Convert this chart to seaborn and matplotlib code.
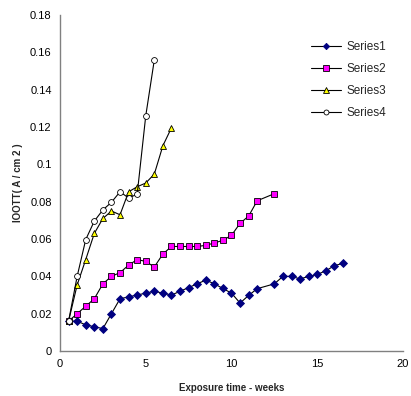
import numpy as np
import pandas as pd
import matplotlib
matplotlib.use("Agg")
import matplotlib.pyplot as plt
import seaborn as sns

# --- datos ---
x1 = [0.5, 1, 1.5, 2, 2.5, 3, 3.5, 4, 4.5, 5, 5.5, 6, 6.5, 7, 7.5, 8, 8.5,
      9, 9.5, 10, 10.5, 11, 11.5, 12.5, 13, 13.5, 14, 14.5, 15, 15.5, 16, 16.5]
s1 = [0.016, 0.016, 0.014, 0.013, 0.012, 0.020, 0.028, 0.029, 0.030, 0.031, 0.032,
      0.031, 0.030, 0.032, 0.034, 0.036, 0.038, 0.036, 0.0335, 0.031, 0.0257, 0.0298,
      0.0334, 0.036, 0.040, 0.040, 0.0386, 0.040, 0.041, 0.043, 0.0457, 0.047]

x2 = [0.5, 1, 1.5, 2, 2.5, 3, 3.5, 4, 4.5, 5, 5.5, 6, 6.5, 7, 7.5, 8, 8.5,
      9, 9.5, 10, 10.5, 11, 11.5, 12.5]
s2 = [0.016, 0.020, 0.024, 0.028, 0.036, 0.040, 0.042, 0.046, 0.049, 0.048, 0.045,
      0.052, 0.056, 0.056, 0.056, 0.056, 0.0566, 0.0579, 0.0593, 0.062, 0.0684, 0.0723,
      0.0805, 0.0843]

x3 = [0.5, 1, 1.5, 2, 2.5, 3, 3.5, 4, 4.5, 5, 5.5, 6, 6.5]
s3 = [0.016, 0.0354, 0.049, 0.063, 0.071, 0.075, 0.073, 0.0853, 0.088, 0.090,
      0.0948, 0.110, 0.1196]

x4 = [0.5, 1, 1.5, 2, 2.5, 3, 3.5, 4, 4.5, 5, 5.5]
s4 = [0.016, 0.040, 0.0597, 0.0696, 0.0756, 0.0797, 0.0853, 0.082, 0.084, 0.126, 0.156]

series = ["Series1", "Series2", "Series3", "Series4"]
markers = ["D", "s", "^", "o"]
facecolors = ["#000080", "#FF00FF", "#FFFF00", "white"]
edgecolors = ["#000080", "black", "black", "black"]
sizes = [3.8, 4.6, 5.0, 4.2]

sns.set_style("white")
plt.rcParams["font.family"] = ["Liberation Sans", "DejaVu Sans"]

fig = plt.figure(figsize=(4.11, 3.96), dpi=100)
ax = fig.add_axes([0.146, 0.1136, 0.8345, 0.8484])

datos = [(x1, s1), (x2, s2), (x3, s3), (x4, s4)]
for i, (xs, ys) in enumerate(datos):
    sns.lineplot(x=xs, y=ys, ax=ax, color="black", lw=0.8, sort=False,
                 marker=markers[i], markersize=sizes[i],
                 markerfacecolor=facecolors[i], markeredgecolor=edgecolors[i],
                 markeredgewidth=0.6, label=series[i])

ax.set_xlim(0, 20)
ax.set_ylim(0, 0.18)
ax.set_xticks([0, 5, 10, 15, 20])
ax.set_yticks(np.arange(0, 0.181, 0.02))
ax.set_yticklabels(["0", "0.02", "0.04", "0.06", "0.08", "0.1", "0.12", "0.14", "0.16", "0.18"])

for side in ["top", "right"]:
    ax.spines[side].set_visible(False)
for side in ["left", "bottom"]:
    ax.spines[side].set_color("#808080")
    ax.spines[side].set_linewidth(1.0)

ax.tick_params(axis="both", direction="out", length=3, width=0.8, color="#808080",
               labelsize=8, labelcolor="black", pad=3)

ax.set_xlabel("Exposure time - weeks", fontsize=7, fontweight="bold", labelpad=10)
ax.set_ylabel("IOOTT( A / cm 2 )", fontsize=7, fontweight="bold", labelpad=5)

leg = ax.legend(loc="upper left", bbox_to_anchor=(0.70, 0.955), frameon=False,
                fontsize=8.5, handlelength=2.6, labelspacing=0.85, handletextpad=0.4,
                markerscale=0.85)

fig.savefig("out.png", dpi=100)
